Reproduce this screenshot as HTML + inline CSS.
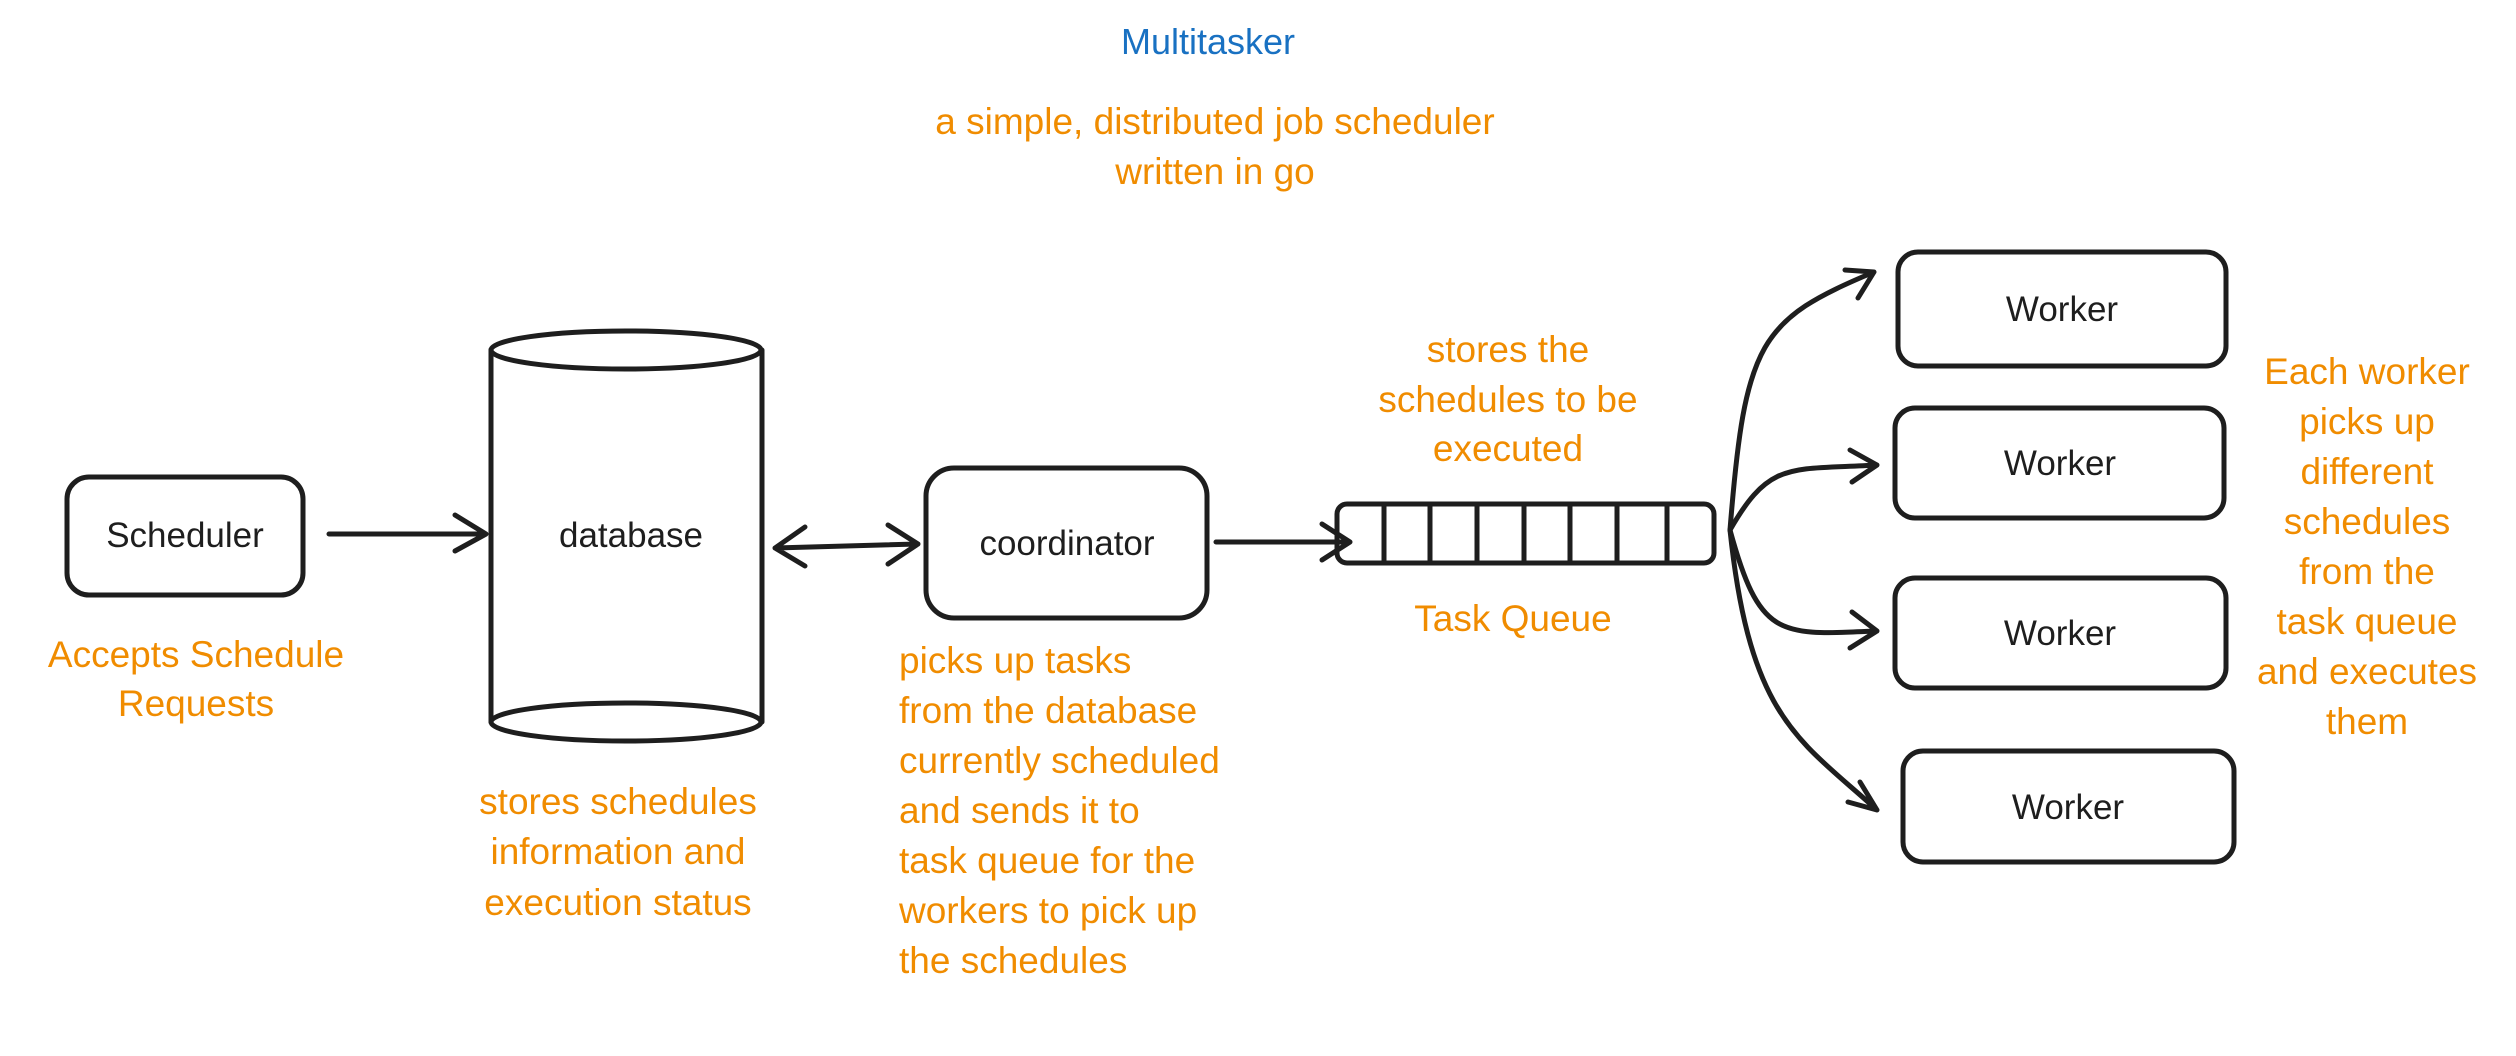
<!DOCTYPE html>
<html><head><meta charset="utf-8"><style>
html,body{margin:0;padding:0;background:#fff;}
body{width:2516px;height:1056px;overflow:hidden;position:relative;}
svg{position:absolute;left:0;top:0;}
text{font-family:"Liberation Sans",sans-serif;}
.o{fill:#f08c00;font-size:37px;}
.k{fill:#1e1e1e;font-size:35px;}
</style></head><body>
<svg width="2516" height="1056" viewBox="0 0 2516 1056">
<g fill="none" stroke="#1e1e1e" stroke-width="5" stroke-linecap="round" stroke-linejoin="round">
<rect x="67" y="477" width="236" height="118" rx="22"/>
<path d="M491 350 L491 722 M762 350 L762 722"/>
<ellipse cx="626" cy="350" rx="135" ry="19"/>
<ellipse cx="626" cy="722" rx="135" ry="19"/>
<rect x="926" y="468" width="281" height="150" rx="28"/>
<rect x="1337" y="504" width="377" height="59" rx="10"/>
<path d="M1384 504v59M1430 504v59M1477 504v59M1524 504v59M1570 504v59M1617 504v59M1667 504v59"/>
<rect x="1898" y="252" width="328" height="114" rx="20"/>
<rect x="1895" y="408" width="329" height="110" rx="20"/>
<rect x="1895" y="578" width="331" height="110" rx="20"/>
<rect x="1903" y="751" width="331" height="111" rx="20"/>
<path d="M329 534 L486 534 M455 515 L486 534 L455 551"/>
<path d="M775 548 L918 544 M805 527 L775 548 L805 566 M888 525 L918 544 L888 564"/>
<path d="M1216 542 L1350 542 M1322 524 L1350 542 L1322 560"/>
<path d="M1730 530 C1745 340 1760 320 1874 272 M1845 270 L1874 272 L1858 298"/>
<path d="M1730 530 C1770 460 1790 470 1877 465 M1850 450 L1877 465 L1852 482"/>
<path d="M1730 530 C1760 640 1780 635 1877 631 M1852 612 L1877 631 L1850 648"/>
<path d="M1730 530 C1750 720 1800 740 1877 810 M1860 782 L1877 810 L1848 802"/>
</g>
<text x="1208" y="54" text-anchor="middle" style="fill:#1971c2;font-size:36px">Multitasker</text>
<text class="o" x="1215" y="134" text-anchor="middle">a simple, distributed job scheduler</text>
<text class="o" x="1215" y="184" text-anchor="middle">written in go</text>
<text class="k" x="185" y="547" text-anchor="middle">Scheduler</text>
<text class="k" x="631" y="547" text-anchor="middle">database</text>
<text class="k" x="1067" y="555" text-anchor="middle">coordinator</text>
<text class="k" x="2062" y="321" text-anchor="middle">Worker</text>
<text class="k" x="2060" y="475" text-anchor="middle">Worker</text>
<text class="k" x="2060" y="645" text-anchor="middle">Worker</text>
<text class="k" x="2068" y="819" text-anchor="middle">Worker</text>
<g class="o" text-anchor="middle">
<text x="196" y="667">Accepts Schedule</text>
<text x="196" y="716">Requests</text>
<text x="618" y="814">stores schedules</text>
<text x="618" y="864">information and</text>
<text x="618" y="915">execution status</text>
<text x="1508" y="362">stores the</text>
<text x="1508" y="412">schedules to be</text>
<text x="1508" y="461">executed</text>
<text x="1513" y="631">Task Queue</text>
<text x="2367" y="384">Each worker</text>
<text x="2367" y="434">picks up</text>
<text x="2367" y="484">different</text>
<text x="2367" y="534">schedules</text>
<text x="2367" y="584">from the</text>
<text x="2367" y="634">task queue</text>
<text x="2367" y="684">and executes</text>
<text x="2367" y="734">them</text>
</g>
<g class="o">
<text x="899" y="673">picks up tasks</text>
<text x="899" y="723">from the database</text>
<text x="899" y="773">currently scheduled</text>
<text x="899" y="823">and sends it to</text>
<text x="899" y="873">task queue for the</text>
<text x="899" y="923">workers to pick up</text>
<text x="899" y="973">the schedules</text>
</g>
</svg>
</body></html>
